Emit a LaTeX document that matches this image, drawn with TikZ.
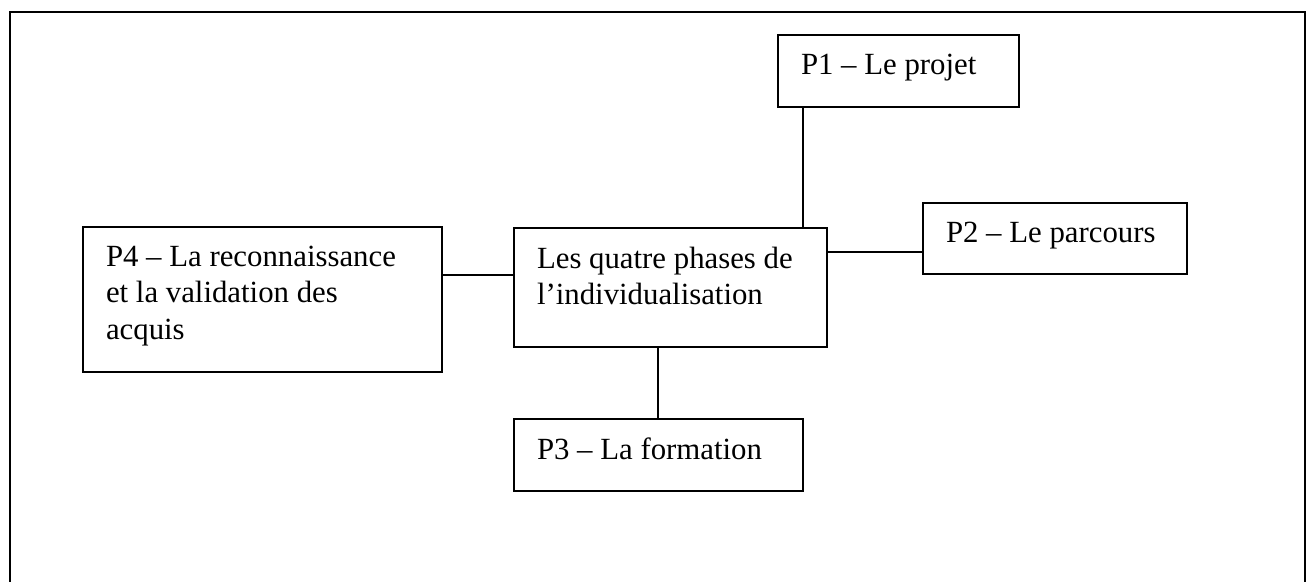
\documentclass[tikz,border=0pt]{standalone}
\usepackage{fontspec}
\setmainfont{Liberation Serif}
\usetikzlibrary{positioning, calc}
\newcommand{\phasetext}[3]{\parbox[t][#2][t]{#1}{\raggedright\vspace*{19pt}#3}}

\begin{document}
\begin{tikzpicture}[x=1pt, y=-1pt,
    phase/.style={draw=black, line width=1.2pt, anchor=north west, inner xsep=23pt, inner ysep=0pt, outer sep=0pt,
      font=\fontsize{30.8}{36.5}\selectfont},
    link/.style={draw=black, line width=1.2pt},
    frame/.style={draw=black, line width=2pt}]
        \useasboundingbox (0,0) rectangle (1313,581);
        % outer frame, bottom edge runs off the page
        \draw[frame] (10,12) rectangle (1305,620);
        % phase boxes
        \node[phase] (mid) at (514,228) {\phasetext{267pt}{119pt}{Les quatre phases de\\l’individualisation}};
        \node[phase] (p1) at (778,35) {\phasetext{195pt}{72pt}{P1 – Le projet}};
        \node[phase] (p2) at (923,203) {\phasetext{218pt}{71pt}{P2 – Le parcours}};
        \node[phase] (p3) at (514,419) {\phasetext{243pt}{72pt}{P3 – La formation}};
        \node[phase] (p4) at (83,227) {\phasetext{313pt}{145pt}{P4 – La reconnaissance\\et la validation des\\acquis}};
        % connectors
        \draw[link] ([xshift=25pt]p1.south west) -- ([xshift=25pt]p1.south west |- mid.north);
        \draw[link] ([yshift=-24pt]mid.north east) -- ([yshift=-24pt]mid.north east -| p2.west);
        \draw[link] ([yshift=-47pt]mid.north west) -- ([yshift=-47pt]mid.north west -| p4.east);
        \draw[link] ([xshift=144pt]p3.north west) -- ([xshift=144pt]p3.north west |- mid.south);
      \end{tikzpicture}
\end{document}
